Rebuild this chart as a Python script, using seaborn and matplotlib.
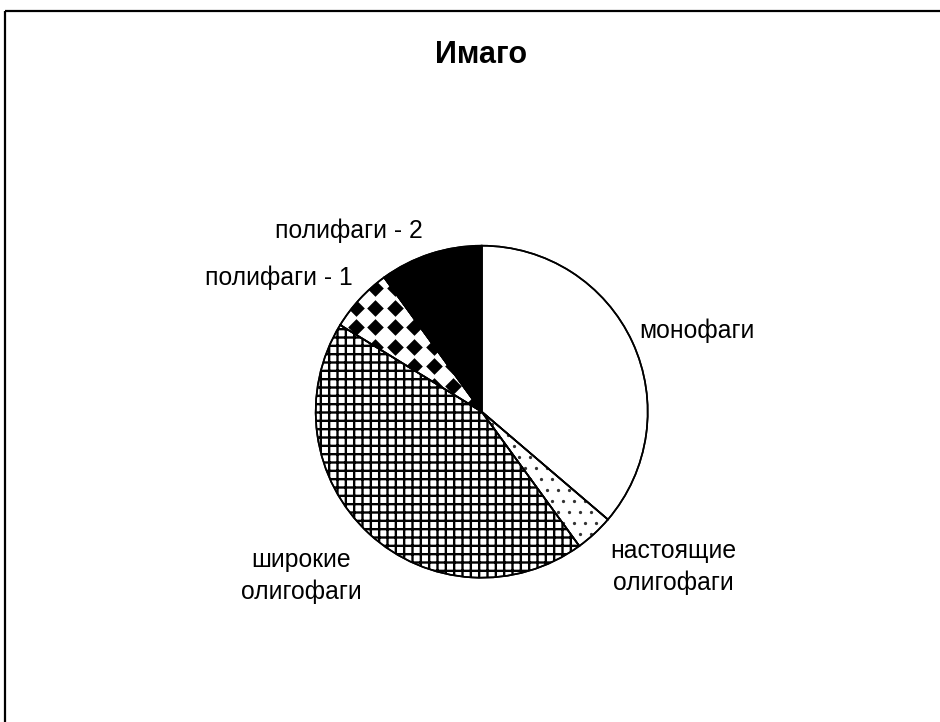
import numpy as np
import matplotlib
matplotlib.use("Agg")
import matplotlib.pyplot as plt
import seaborn as sns
from matplotlib.patches import Wedge
from matplotlib.lines import Line2D

# Trophic groups of imagoes and number of species in each
groups = ["монофаги", "настоящие\nолигофаги", "широкие\nолигофаги",
          "полифаги - 1", "полифаги - 2"]
species = [29, 3, 35, 5, 8]
title = "Имаго"

sns.set_style("white")
plt.rcParams["font.family"] = ["Liberation Sans", "DejaVu Sans"]
plt.rcParams["hatch.linewidth"] = 1.7

W, H = 940, 722
fig = plt.figure(figsize=(W / 100, H / 100), dpi=100, facecolor="white")
fig.patch.set_edgecolor("none")
fig.patch.set_linewidth(0)
ax = fig.add_axes([0, 0, 1, 1])

cx, cy, r = 481.7, H - 411.7, 166
wedges, _ = ax.pie(
    species, startangle=90, counterclock=False, center=(cx, cy), radius=r,
    colors=["white", "white", "white", "white", "black"],
    wedgeprops=dict(edgecolor="black", linewidth=1.2), frame=True,
)
ax.set_xlim(0, W)
ax.set_ylim(0, H)
ax.set_aspect("equal")
ax.axis("off")

# grid hatch for broad oligophages
wedges[2].set_hatch("++")

# dotted fill for true oligophages
step = 11
xs, ys = [], []
for j, yy in enumerate(np.arange(cy - r, cy + r, step)):
    off = (step / 2) * (j % 2)
    for xx in np.arange(cx - r + off, cx + r, step):
        xs.append(xx)
        ys.append(yy)
dots = ax.scatter(xs, ys, s=5.5, color="#333333", linewidths=0, zorder=3)
dots.set_clip_path(wedges[1])

# diamond checker fill for polyphages-1
step = 19.5
x0, y0 = 375, H - 288.3
gx = np.arange(x0 - 12 * step, x0 + 12 * step, step)
gy = np.arange(y0 - 12 * step, y0 + 12 * step, step)
GX, GY = np.meshgrid(gx, gy)
dia = ax.scatter(GX.ravel(), GY.ravel(), s=72, marker="D", color="black",
                 linewidths=0, zorder=3)
dia.set_clip_path(wedges[3])

# outline the wedges again above the fills
for w in wedges:
    ax.add_patch(Wedge(w.center, w.r, w.theta1, w.theta2, facecolor="none",
                       edgecolor="black", linewidth=1.2, zorder=4))

# category labels: centre x and baseline of the first line
label_pos = [(696.5, 338), (673.5, 558), (301, 567), (278.5, 285), (348.5, 238)]
line_gap = 32
for text, (lx, ly) in zip(groups, label_pos):
    for i, line in enumerate(text.split("\n")):
        ax.text(lx, H - (ly + i * line_gap), line, ha="center", va="baseline",
                fontsize=17.8, color="black")

ax.text(481, H - 63.3, title, ha="center", va="baseline", fontsize=22,
        fontweight="bold", color="black")

# chart area border: top and left edges only
border_kw = dict(color="black", linewidth=1.6, zorder=5,
                 solid_capstyle="butt")
ax.add_line(Line2D([4.5, W], [H - 11, H - 11], **border_kw))
ax.add_line(Line2D([5, 5], [H - 10.5, 0], **border_kw))

fig.savefig("out.png", dpi=100, facecolor="white", edgecolor="none")
